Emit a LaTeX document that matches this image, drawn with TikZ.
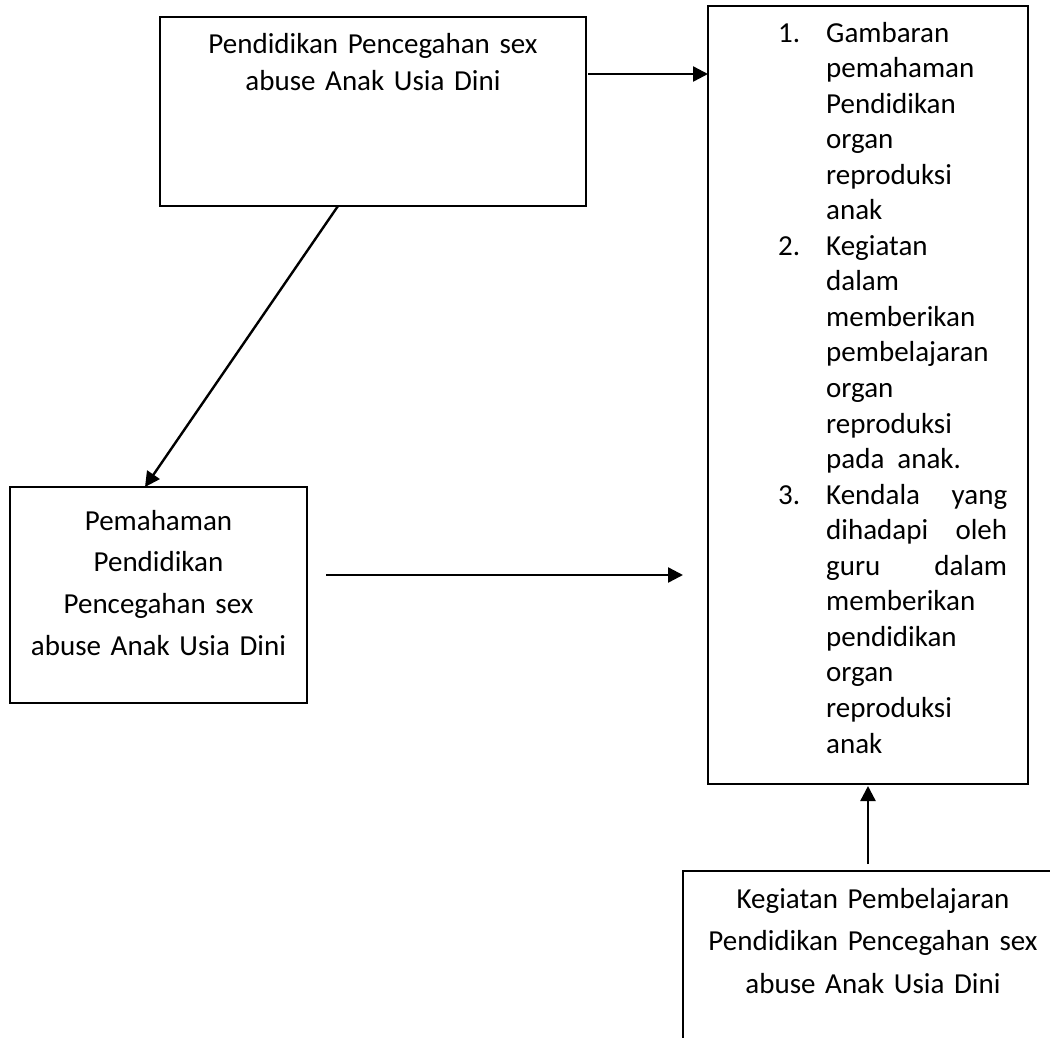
\documentclass[tikz,border=0pt]{standalone}
\usepackage{fontspec}
\setmainfont{Carlito}
\usetikzlibrary{arrows.meta,calc}
\begin{document}
\begin{tikzpicture}[x=1pt,y=-1pt,
  box/.style={draw, line width=2pt, rectangle, inner sep=0pt, outer sep=0pt, anchor=north west},
  arr/.style={line width=2.4pt, -{Triangle[length=15pt,width=15pt]}},
  lbl/.style={inner sep=0pt, anchor=base, align=center},
  num/.style={inner sep=0pt, anchor=base west, font=\fontsize{29}{35.55}\selectfont},
]
\useasboundingbox (0,0) rectangle (1050,1037);
\clip (0,0) rectangle (1050,1037);
\fill[white] (0,0) rectangle (1050,1037);
% boxes
\node[box, minimum width=426pt, minimum height=189pt] (top) at (160,17) {};
\node[box, minimum width=320pt, minimum height=778pt] (right) at (708,6) {};
\node[box, minimum width=297pt, minimum height=216pt] (left) at (10,487) {};
\node[box, minimum width=380pt, minimum height=220pt] (bot) at (683,871) {};
% texts
\node[lbl, text width=420pt, font=\fontsize{29}{37}\selectfont] (toptext) at (373,53)
  {Pendidikan Pencegahan sex\\abuse Anak Usia Dini};
\node[lbl, text width=290pt, font=\fontsize{29}{41.7}\selectfont] (lefttext) at (158.5,530)
  {Pemahaman\\Pendidikan\\Pencegahan sex\\abuse Anak Usia Dini};
\node[lbl, text width=370pt, font=\fontsize{29}{42.5}\selectfont] (bottext) at (873,908)
  {Kegiatan Pembelajaran\\Pendidikan Pencegahan sex\\abuse Anak Usia Dini};
\node[num] (n1) at (778,42) {1.};
\node[num] (n2) at (778,255.3) {2.};
\node[num] (n3) at (778,504.2) {3.};
\node[inner sep=0pt, anchor=base west, text width=181pt, align=left,
      font=\fontsize{29}{35.55}\selectfont] (rtext) at (826,42)
  {Gambaran\\pemahaman\\Pendidikan\\organ\\reproduksi\\anak\\
   Kegiatan\\dalam\\memberikan\\pembelajaran\\organ\\reproduksi\\pada\hspace{13pt}anak.\\
   Kendala\hfill yang\\dihadapi\hfill oleh\\guru\hfill dalam\\memberikan\\pendidikan\\organ\\reproduksi\\anak};
% connectors
\coordinate (ya) at (0,74);
\coordinate (ym) at (0,575);
\coordinate (d1) at (338,0);
\coordinate (d2) at (145,0);
\coordinate (xv) at (868,0);
\draw[arr] ($(top.east |- ya)+(2,0)$) -- (right.west |- ya);
\draw[arr] (top.south -| d1) -- (left.north -| d2);
\draw[arr] ($(left.east |- ym)+(19,0)$) -- ($(right.west |- ym)+(-25,0)$);
\draw[arr] ($(bot.north -| xv)+(0,-7)$) -- ($(right.south -| xv)+(0,2)$);
\end{tikzpicture}
\end{document}
